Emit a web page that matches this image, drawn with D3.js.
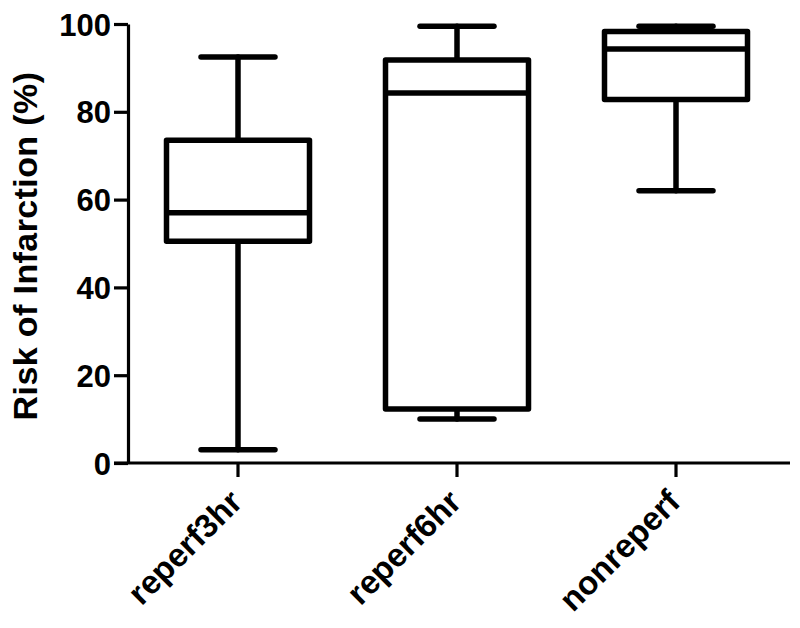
<!DOCTYPE html>
<html>
<head>
<meta charset="utf-8">
<script src="https://cdn.jsdelivr.net/npm/d3@7"></script>
<style>
  html, body { margin: 0; padding: 0; background: #fff; }
  svg { display: block; }
  text { font-family: "Liberation Sans", Arial, Helvetica, sans-serif; font-weight: bold; fill: #000; }
</style>
</head>
<body>
<svg id="chart" width="800" height="628"></svg>
<script>
const categories = ["reperf3hr", "reperf6hr", "nonreperf"];
const minValues    = [3, 10, 62];
const q1Values     = [50.5, 12.3, 82.8];
const medianValues = [57, 84.3, 94.3];
const q3Values     = [73.5, 91.8, 98.3];
const maxValues    = [92.5, 99.5, 99.5];
const yTicks = [0, 20, 40, 60, 80, 100];
const yTitle = "Risk of Infarction (%)";

const data = categories.map((c, i) => ({
  cat: c, min: minValues[i], q1: q1Values[i], med: medianValues[i], q3: q3Values[i], max: maxValues[i]
}));

const svg = d3.select("#chart");
const axisX = 128;
const x = d3.scaleBand().domain(categories).range([128.5, 785.5]).padding(0);
const y = d3.scaleLinear().domain([0, 100]).range([463, 24]);

const boxW = 143;
const capW = 74;
const sw = 5.5;

// Axes
const yAxis = svg.append("g").attr("transform", `translate(${axisX},0)`)
  .call(d3.axisLeft(y).tickValues(yTicks).tickSize(14).tickPadding(3).tickSizeOuter(0));
yAxis.select(".domain").attr("stroke", "#000").attr("stroke-width", 3.2);
yAxis.selectAll(".tick line").attr("stroke", "#000").attr("stroke-width", 3.2);
yAxis.selectAll(".tick text").attr("font-size", 31).attr("font-family", null).attr("dy", "0.36em");

const xAxis = svg.append("g").attr("transform", `translate(0,${y(0)})`)
  .call(d3.axisBottom(x).tickSize(14).tickSizeOuter(0));
xAxis.select(".domain").attr("stroke", "#000").attr("stroke-width", 3.2)
  .attr("d", `M114,0H790`);
xAxis.selectAll(".tick line").attr("stroke", "#000").attr("stroke-width", 3.2);
xAxis.selectAll(".tick text")
  .attr("font-size", 33).attr("font-family", null)
  .attr("text-anchor", "end")
  .attr("x", 0).attr("y", 0).attr("dy", 0)
  .attr("transform", "translate(6,41) rotate(-45)");

// Y title
svg.append("text")
  .attr("transform", `translate(37,246) rotate(-90)`)
  .attr("text-anchor", "middle")
  .attr("font-size", 34)
  .attr("letter-spacing", 0.4)
  .text(yTitle);

// Boxes
const g = svg.append("g").attr("stroke", "#000").attr("stroke-width", sw).attr("fill", "none")
  .attr("stroke-linejoin", "round").attr("stroke-linecap", "round");

const groups = g.selectAll("g.box").data(data).join("g").attr("class", "box")
  .attr("transform", d => `translate(${x(d.cat) + x.bandwidth() / 2},0)`);

// whiskers
groups.append("line").attr("x1", 0).attr("x2", 0).attr("y1", d => y(d.q3)).attr("y2", d => y(d.max));
groups.append("line").attr("x1", 0).attr("x2", 0).attr("y1", d => y(d.q1)).attr("y2", d => y(d.min));
// caps
groups.append("line").attr("x1", -capW / 2).attr("x2", capW / 2).attr("y1", d => y(d.max)).attr("y2", d => y(d.max));
groups.append("line").attr("x1", -capW / 2).attr("x2", capW / 2).attr("y1", d => y(d.min)).attr("y2", d => y(d.min));
// box
groups.append("rect").attr("x", -boxW / 2).attr("width", boxW)
  .attr("y", d => y(d.q3)).attr("height", d => y(d.q1) - y(d.q3)).attr("fill", "#fff");
// median
groups.append("line").attr("x1", -boxW / 2).attr("x2", boxW / 2).attr("y1", d => y(d.med)).attr("y2", d => y(d.med))
  .attr("stroke-linecap", "butt");
</script>
</body>
</html>
